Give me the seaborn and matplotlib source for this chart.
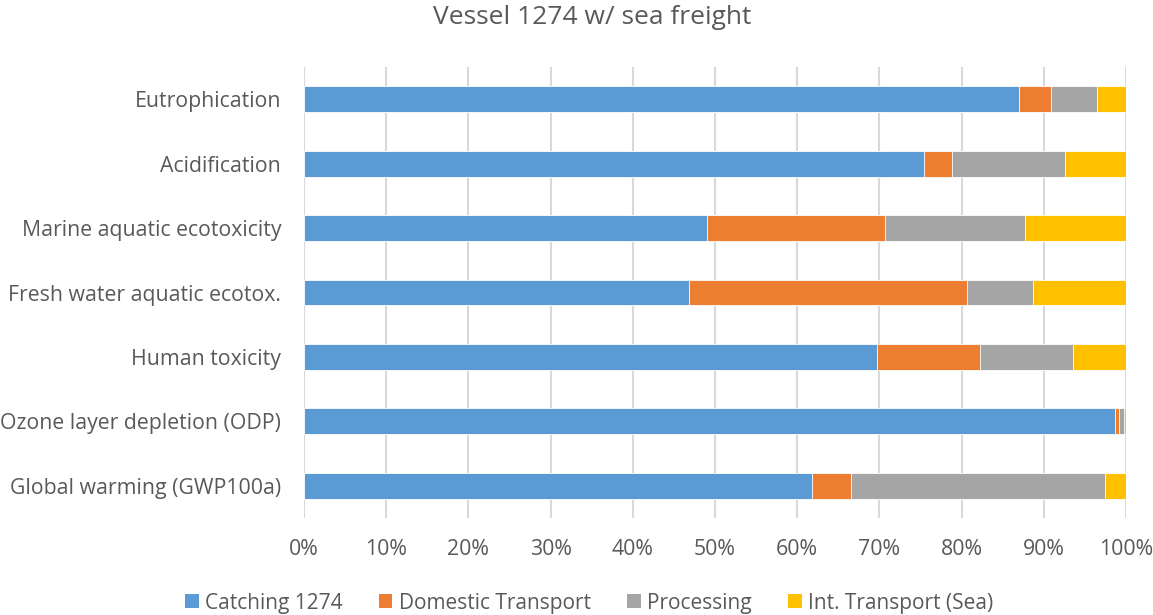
import matplotlib
matplotlib.use("Agg")
import matplotlib.pyplot as plt
import seaborn as sns
import numpy as np
import pandas as pd
from matplotlib.patches import Patch

categories = ["Eutrophication", "Acidification", "Marine aquatic ecotoxicity",
              "Fresh water aquatic ecotox.", "Human toxicity",
              "Ozone layer depletion (ODP)", "Global warming (GWP100a)"]
series_names = ["Catching 1274", "Domestic Transport", "Processing", "Int. Transport (Sea)"]
catching = [87.0, 75.4, 49.0, 46.8, 69.7, 98.7, 61.8]
domestic = [3.9, 3.4, 21.7, 33.8, 12.5, 0.5, 4.8]
processing = [5.6, 13.8, 17.0, 8.1, 11.3, 0.6, 30.9]
int_transport = [3.5, 7.4, 12.3, 11.3, 6.5, 0.2, 2.5]
xtick_values = [0, 10, 20, 30, 40, 50, 60, 70, 80, 90, 100]
xtick_labels = [f"{v}%" for v in xtick_values]
colors = ["#5B9BD5", "#ED7D31", "#A5A5A5", "#FFC000"]

sns.set_theme(style="white")
plt.rcParams["font.family"] = ["Open Sans", "DejaVu Sans"]
text_color = "#595959"

series = [catching, domestic, processing, int_transport]
cums = np.cumsum(np.array(series, dtype=float), axis=0)

fig = plt.figure(figsize=(11.53, 6.15), dpi=100)
ax = fig.add_axes([304/1153, 1 - 518/615, 822/1153, 451/615])

for i in range(len(series) - 1, -1, -1):
    df = pd.DataFrame({"cat": categories, "val": cums[i]})
    sns.barplot(data=df, x="val", y="cat", color=colors[i], saturation=1,
                width=0.4, ax=ax, edgecolor="white", linewidth=0.6, zorder=3,
                order=categories)

ax.set_xlim(0, 100)
ax.set_ylim(len(categories) - 0.5, -0.5)
ax.set_xticks(xtick_values)
ax.set_xticklabels(xtick_labels, color=text_color, fontsize=15.3)
ax.tick_params(axis="y", labelsize=15.3, labelcolor=text_color, length=0, pad=16.5)
ax.tick_params(axis="x", length=0, pad=15)
ax.set_xlabel("")
ax.set_ylabel("")
ax.grid(axis="x", color="#D9D9D9", linewidth=1.5, zorder=0)
ax.grid(axis="y", visible=False)
for s in ax.spines.values():
    s.set_visible(False)

fig.text(592/1153, 1 - 18/615, "Vessel 1274 w/ sea freight", ha="center", va="center",
         fontsize=19, color=text_color)

handles = [Patch(facecolor=c, edgecolor="none") for c in colors]
fig.legend(handles, series_names, loc="center", bbox_to_anchor=(589/1153, 1 - 603/615),
           ncol=4, frameon=False, fontsize=15, labelcolor=text_color,
           handlelength=0.65, handleheight=0.65, handletextpad=0.3, columnspacing=1.75)

fig.savefig("out.png", dpi=100)
